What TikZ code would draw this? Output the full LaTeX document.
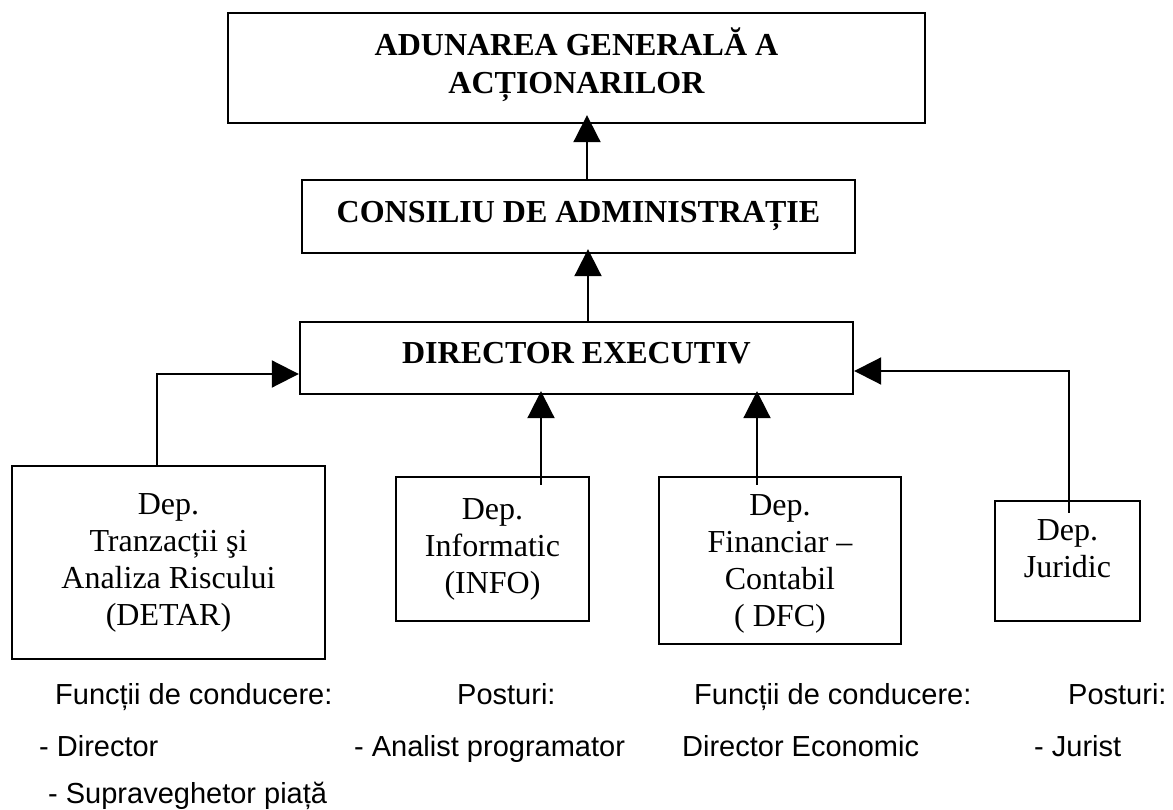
\documentclass[tikz,border=0pt]{standalone}
\usepackage{fontspec}
\setmainfont{Liberation Serif}
\newfontfamily\arialfont{Liberation Sans}
\usetikzlibrary{arrows.meta}
\begin{document}
\begin{tikzpicture}[x=1pt,y=-1pt]
  \useasboundingbox (0,0) rectangle (1173,810);
  \begin{scope}[every node/.style={draw,line width=2.4pt,align=center,inner sep=0pt,font=\fontsize{32}{37}\selectfont}]
  \node[font=\fontsize{32}{38}\selectfont\bfseries,text depth=14pt,minimum width=697pt,minimum height=110pt] (aga) at (576.5,68) {ADUNAREA GENERALĂ A\\ACȚIONARILOR};
  \node[font=\fontsize{32}{38}\selectfont\bfseries,text depth=10pt,minimum width=553pt,minimum height=73pt] (ca) at (578.5,216.5) {CONSILIU DE ADMINISTRAȚIE};
  \node[font=\fontsize{32}{38}\selectfont\bfseries,text depth=10pt,minimum width=553pt,minimum height=72pt] (dirx) at (576.5,358) {DIRECTOR EXECUTIV};
  \node[minimum width=313pt,minimum height=193pt] (detar) at (168.5,562.5) {Dep.\\Tranzacții şi\\Analiza Riscului\\(DETAR)};
  \node[minimum width=193pt,minimum height=144pt] (info) at (492.5,549) {Dep.\\Informatic\\(INFO)};
  \node[text depth=-5pt,minimum width=242pt,minimum height=167pt] (dfc) at (780,560.5) {Dep.\\Financiar --\\Contabil\\( DFC)};
  \node[text depth=25pt,minimum width=145pt,minimum height=120pt] (jur) at (1067.5,561) {Dep.\\Juridic};
  \end{scope}
  \begin{scope}[every edge/.style={draw=black,line width=2pt,-{Triangle[length=27pt,width=27pt]}}]
  \path ([xshift=8.5pt]ca.north) edge[shorten >=-9pt] ([xshift=10.5pt]aga.south);
  \path ([xshift=11.5pt]dirx.north) edge[shorten >=-5pt] ([xshift=9.5pt]ca.south);
  \path ([xshift=-11.5pt]detar.north) edge[to path={|- (\tikztotarget)}] ([yshift=-16pt]dirx.west);
  \path ([xshift=48.5pt,yshift=-9pt]info.north) edge[shorten >=-4pt] ([xshift=-35.5pt]dirx.south);
  \path ([xshift=-23pt,yshift=-9pt]dfc.north) edge[shorten >=-4pt] ([xshift=180.5pt]dirx.south);
  \path ([xshift=1.5pt,yshift=-13pt]jur.north) edge[to path={|- (\tikztotarget)}] ([yshift=-13pt]dirx.east);
  \end{scope}
  \begin{scope}[every node/.style={anchor=base west,inner sep=0pt,font=\arialfont\fontsize{29}{35}\selectfont}]
  \node (fcdetar) at (55,704) {Funcții de conducere:};
  \node (pinfo) at (457,704) {Posturi:};
  \node (fcdfc) at (694,704) {Funcții de conducere:};
  \node (pjur) at (1068,704) {Posturi:};
  \node (dirdetar) at (39,756) {- Director};
  \node (analist) at (354,756) {- Analist programator};
  \node (direc) at (682,756) {Director Economic};
  \node (jurist) at (1034,756) {- Jurist};
  \node (superv) at (48,803) {- Supraveghetor piață};
  \end{scope}
\end{tikzpicture}
\end{document}
